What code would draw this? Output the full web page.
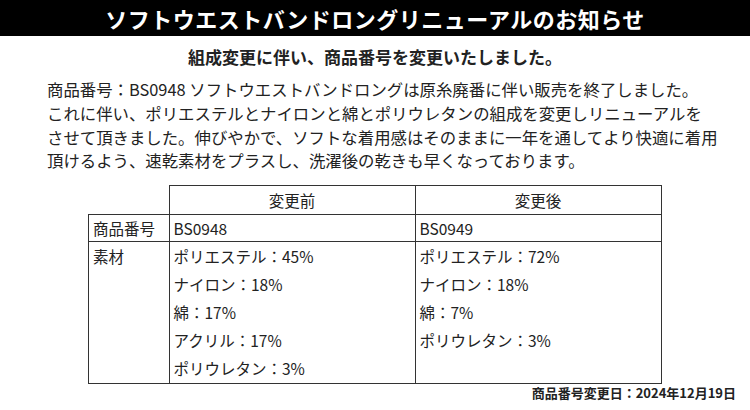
<!DOCTYPE html>
<html><head><meta charset="utf-8">
<script src="https://cdn.jsdelivr.net/npm/chart.js@4"></script>
<style>
body{margin:0;width:750px;height:410px;background:#fff;font-family:"Noto Sans CJK JP","Noto Sans",sans-serif;color:#222;position:relative;overflow:hidden}
.hd{position:absolute;left:0;top:0;width:750px;height:36px;background:#000;color:#fff;font-weight:bold;font-size:22px;line-height:36px;text-align:center;letter-spacing:0.5px}
.sub{position:absolute;top:44px;width:750px;text-align:center;font-weight:bold;font-size:17px}
.p{position:absolute;left:47px;top:78px;font-size:16.4px;line-height:23.8px;width:720px;white-space:nowrap}
table{position:absolute;left:88px;top:185px;border-collapse:collapse;font-size:15.5px}
td{border:1px solid #333;padding:0 4px;vertical-align:top}
.ft{position:absolute;right:14px;top:383px;font-weight:bold;font-size:13px}
.l{height:28px;line-height:28px}
</style></head><body>
<div class="hd">ソフトウエストバンドロングリニューアルのお知らせ</div>
<div class="sub">組成変更に伴い、商品番号を変更いたしました。</div>
<div class="p">商品番号：BS0948 ソフトウエストバンドロングは原糸廃番に伴い販売を終了しました。<br>これに伴い、ポリエステルとナイロンと綿とポリウレタンの組成を変更しリニューアルを<br>させて頂きました。伸びやかで、ソフトな着用感はそのままに一年を通してより快適に着用<br>頂けるよう、速乾素材をプラスし、洗濯後の乾きも早くなっております。</div>
<table id="t"></table>
<div class="ft">商品番号変更日：2024年12月19日</div>
<canvas id="c" width="1" height="1" style="display:none"></canvas>
<script>
const columns = ['変更前', '変更後'];
const codes = ['BS0948', 'BS0949'];
const beforeMaterials = ['ポリエステル：45%', 'ナイロン：18%', '綿：17%', 'アクリル：17%', 'ポリウレタン：3%'];
const afterMaterials = ['ポリエステル：72%', 'ナイロン：18%', '綿：7%', 'ポリウレタン：3%'];

const t = document.getElementById('t');
const lines = a => a.map(s => `<div class="l">${s}</div>`).join('');
t.innerHTML =
  `<tr style="height:28px"><td style="border:none;width:72px"></td>${columns.map(c => `<td style="text-align:center;width:237px;line-height:28px">${c}</td>`).join('')}</tr>` +
  `<tr style="height:27px"><td style="line-height:26px">商品番号</td>${codes.map(c => `<td style="line-height:26px">${c}</td>`).join('')}</tr>` +
  `<tr style="height:142px"><td style="line-height:28px">素材</td><td>${lines(beforeMaterials)}</td><td>${lines(afterMaterials)}</td></tr>`;
</script>
</body></html>
